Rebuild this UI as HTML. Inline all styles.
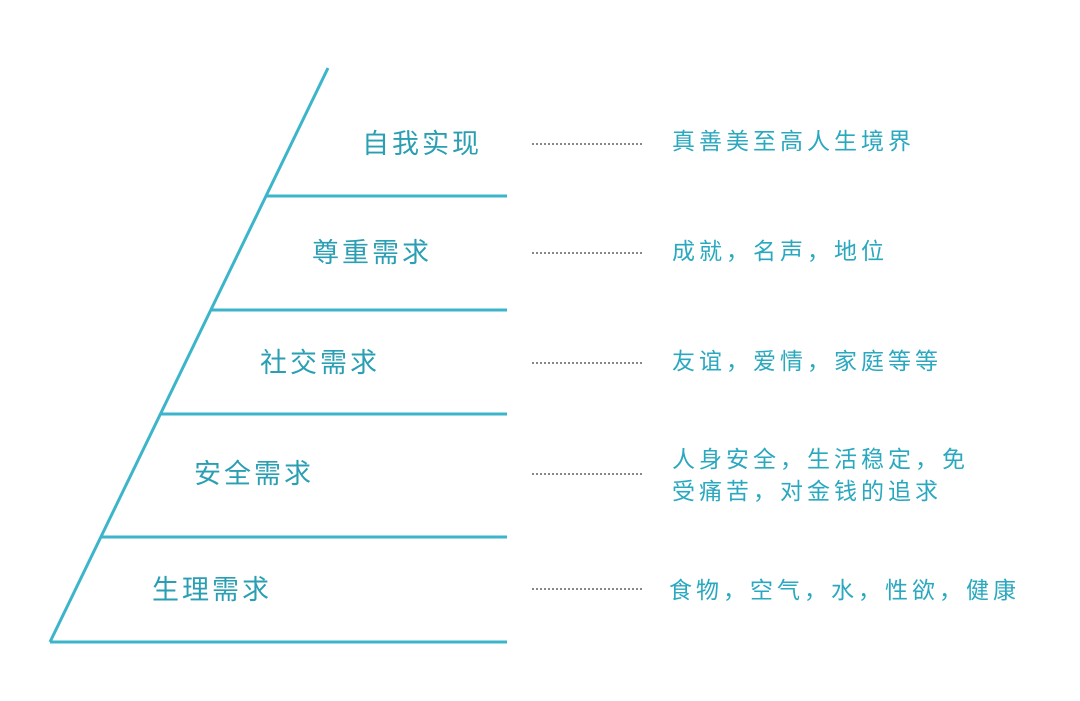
<!DOCTYPE html>
<html><head><meta charset="utf-8"><style>
body{margin:0;background:#fff;width:1080px;height:701px;overflow:hidden;position:relative;font-family:"Liberation Sans","Noto Sans CJK SC",sans-serif}
.l{position:absolute;font-size:27px;color:#2a9fb3;line-height:30px;white-space:nowrap;letter-spacing:3px}
.r{position:absolute;font-size:23px;color:#2aa8bf;line-height:30px;white-space:nowrap;letter-spacing:4px}
</style></head><body>
<svg width="1080" height="701" style="position:absolute;left:0;top:0">
<g stroke="#3cb5cb" stroke-width="3" fill="none">
<line x1="328" y1="68" x2="50" y2="642"/>
<line x1="266" y1="196" x2="507" y2="196"/>
<line x1="211" y1="310" x2="507" y2="310"/>
<line x1="160" y1="414" x2="507" y2="414"/>
<line x1="101" y1="537" x2="507" y2="537"/>
<line x1="50" y1="642" x2="507" y2="642"/>
</g>
<g stroke="#888" stroke-width="2" stroke-dasharray="2,2">
<line x1="532" y1="144" x2="642" y2="144"/>
<line x1="532" y1="253" x2="642" y2="253"/>
<line x1="532" y1="363" x2="642" y2="363"/>
<line x1="532" y1="474" x2="642" y2="474"/>
<line x1="532" y1="589" x2="642" y2="589"/>
</g>
</svg>
<div class="l" style="left:362px;top:129px">自我实现</div>
<div class="l" style="left:312px;top:238px">尊重需求</div>
<div class="l" style="left:260px;top:348px">社交需求</div>
<div class="l" style="left:194px;top:459px">安全需求</div>
<div class="l" style="left:152px;top:575px">生理需求</div>
<div class="r" style="left:672px;top:126px">真善美至高人生境界</div>
<div class="r" style="left:672px;top:236px">成就，名声，地位</div>
<div class="r" style="left:672px;top:346px">友谊，爱情，家庭等等</div>
<div class="r" style="left:672px;top:444px">人身安全，生活稳定，免</div>
<div class="r" style="left:672px;top:476px">受痛苦，对金钱的追求</div>
<div class="r" style="left:669px;top:575px">食物，空气，水，性欲，健康</div>
</body></html>
